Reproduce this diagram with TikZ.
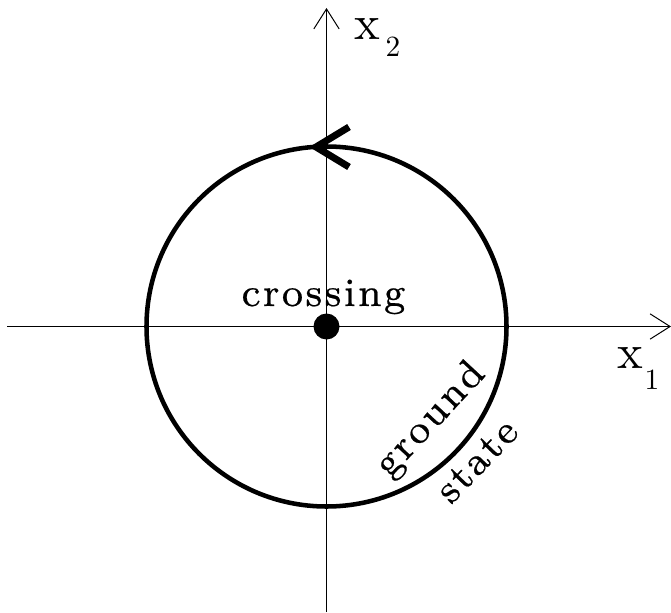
\documentclass[tikz,border=0pt]{standalone}
\usetikzlibrary{arrows.meta}
\font\labelfont="[lmroman8-regular.otf]:embolden=0.5" at 30pt
\newcommand{\ls}{\kern0.06em}
\begin{document}
\begin{tikzpicture}[x=0.75pt,y=0.75pt,
  axis/.style={line width=0.75pt,-{Straight Barb[length=15pt,width=19pt,line width=0.75pt]}},
  ring/.style={line width=3.4pt},
  chev/.style={line width=5.2pt,line cap=butt,line join=miter},
  bigtext/.style={inner sep=0pt,font=\labelfont},
  axlabel/.style={inner sep=0pt,transform shape,scale=3.65,font=\fontsize{10}{12}\selectfont},
  sublabel/.style={inner sep=0pt,transform shape,scale=2.2,font=\fontsize{10}{12}\selectfont}]
\useasboundingbox (0,0) rectangle (671,612);
\coordinate (C) at (326.5,285.5);
\coordinate (xs) at (7,285.5);
\coordinate (xe) at (671,285.5);
\coordinate (ys) at (326.5,0);
\coordinate (ye) at (326.5,604);
\draw[axis] (xs) -- (xe);
\draw[axis] (ys) -- (ye);
\draw[ring] (C) circle[radius=180];
\coordinate (ctip) at (316,465);
\coordinate (cup) at (349,485);
\coordinate (cdn) at (349,445);
\draw[chev] (cup) -- (ctip) -- (cdn);
\node[circle,fill=black,inner sep=0pt,minimum size=19.5pt] (dot) at (C) {};
\node[axlabel,anchor=base] (x2) at (367.5,572) {x};
\node[sublabel,anchor=base] (s2) at (393,555) {2};
\node[axlabel,anchor=base] (x1) at (630,244) {x};
\node[sublabel,anchor=base] (s1) at (652,223) {1};
\node[bigtext,anchor=base] (cr) at (323.5,306) {c\ls r\ls o\ls s\ls s\ls i\ls n\ls g};
\node[bigtext,rotate=47] (gr) at (431,192) {g\ls r\ls o\ls u\ls n\ls d};
\node[bigtext,rotate=46] (st) at (477,151) {s\ls t\ls a\ls t\ls e};
\end{tikzpicture}
\end{document}
